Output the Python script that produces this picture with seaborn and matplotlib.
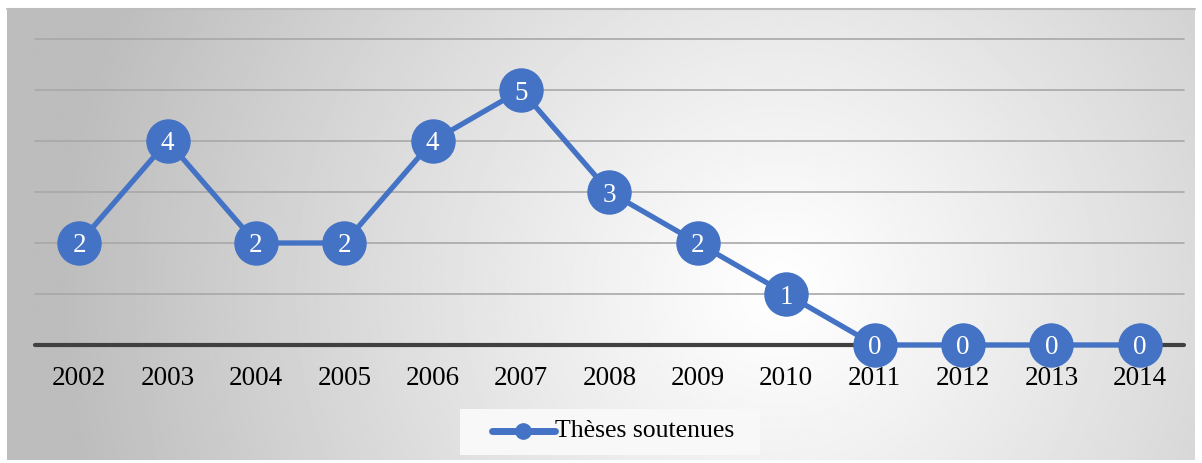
import numpy as np
import pandas as pd
import matplotlib
matplotlib.use("Agg")
import matplotlib.pyplot as plt
import seaborn as sns

years = [2002, 2003, 2004, 2005, 2006, 2007, 2008, 2009, 2010, 2011, 2012, 2013, 2014]
theses = [2, 4, 2, 2, 4, 5, 3, 2, 1, 0, 0, 0, 0]
series_name = "Thèses soutenues"

blue = "#4472C4"

sns.set_style("white")
plt.rcParams["font.family"] = ["Liberation Serif", "DejaVu Serif"]

df = pd.DataFrame({"year": years, "value": theses, "serie": series_name})

W, H = 1202, 463
fig = plt.figure(figsize=(W / 100, H / 100), dpi=100)

# radial gradient background panel
bg = fig.add_axes([7 / W, 3 / H, 1188 / W, 451 / H])
nx, ny = 600, 230
xx, yy = np.meshgrid(np.linspace(7, 1195, nx), np.linspace(9, 460, ny))
r = np.sqrt(((xx - 780) / 820) ** 2 + ((yy - 290) / 820) ** 2)
shade = np.clip(1.0 - 0.30 * r ** 1.1, 0.74, 1.0)
bg.imshow(shade, cmap="gray", vmin=0, vmax=1, aspect="auto",
          extent=[0, 1, 0, 1], origin="upper", interpolation="bilinear")
bg.set_axis_off()
bg.plot([0, 1], [1, 1], color="#bdbdbd", lw=1.5, transform=bg.transAxes, clip_on=False)

ax = fig.add_axes([35 / W, 118 / H, 1149 / W, 306 / H])
ax.set_facecolor("none")

for v in range(1, 7):
    ax.axhline(v, color="#a8a8a8", lw=1.2, zorder=1)
ax.axhline(0, color="#404040", lw=3.0, zorder=2)

sns.lineplot(data=df, x="year", y="value", hue="serie", palette=[blue],
             marker="o", markersize=32, markeredgewidth=0, linewidth=3.8,
             ax=ax, zorder=3, legend=False)
for ln in ax.lines:
    ln.set_clip_on(False)

for x, v in zip(years, theses):
    ax.text(x, v, str(v), color="white", ha="center", va="center_baseline",
            fontsize=19.5, zorder=5)

ax.set_xlim(years[0] - 0.5, years[-1] + 0.5)
ax.set_ylim(0, 6)
ax.set_xticks(years)
ax.set_xticklabels([str(y) for y in years], fontsize=19.5, color="black")
ax.set_yticks([])
ax.tick_params(axis="x", length=0, pad=15)
ax.set_xlabel("")
ax.set_ylabel("")
for s in ax.spines.values():
    s.set_visible(False)

# legend box
leg_ax = fig.add_axes([460 / W, 8 / H, 300 / W, 46 / H])
leg_ax.set_facecolor("#f8f8f8")
leg_ax.set_xlim(0, 300)
leg_ax.set_ylim(0, 46)
leg_ax.plot([32, 95], [24, 24], color=blue, lw=5, solid_capstyle="round")
leg_ax.plot([63], [24], marker="o", color=blue, markersize=11)
leg_ax.text(95, 24, series_name, fontsize=18.5, va="center", ha="left", color="black")
leg_ax.set_xticks([])
leg_ax.set_yticks([])
for s in leg_ax.spines.values():
    s.set_visible(False)

fig.savefig("out.png", dpi=100, facecolor="white")
